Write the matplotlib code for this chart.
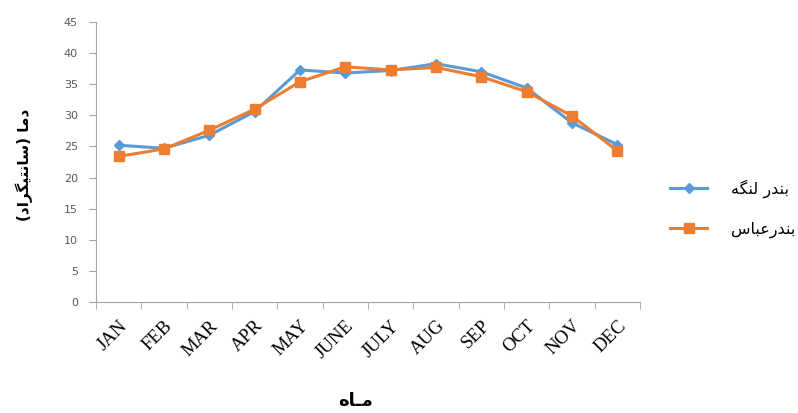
import matplotlib
matplotlib.use("Agg")
import matplotlib.pyplot as plt

months = ["JAN", "FEB", "MAR", "APR", "MAY", "JUNE", "JULY", "AUG", "SEP", "OCT", "NOV", "DEC"]
lengeh = [25.2, 24.7, 26.8, 30.6, 37.3, 36.8, 37.2, 38.3, 37.0, 34.4, 28.8, 25.3]
abbas = [23.4, 24.6, 27.6, 31.0, 35.4, 37.8, 37.3, 37.7, 36.2, 33.8, 29.9, 24.3]
label_lengeh = "بندر لنگه"
label_abbas = "بندرعباس"
ylabel = "دما (سانتیگراد)"
xlabel = "مـاه"

# matplotlib has no arabic shaping, so map letters to presentation forms by hand
forms = {
    "ا": ("\uFE8D", "\uFE8E", None, None),
    "ب": ("\uFE8F", "\uFE90", "\uFE91", "\uFE92"),
    "ت": ("\uFE95", "\uFE96", "\uFE97", "\uFE98"),
    "د": ("\uFEA9", "\uFEAA", None, None),
    "ر": ("\uFEAD", "\uFEAE", None, None),
    "س": ("\uFEB1", "\uFEB2", "\uFEB3", "\uFEB4"),
    "ع": ("\uFEC9", "\uFECA", "\uFECB", "\uFECC"),
    "ل": ("\uFEDD", "\uFEDE", "\uFEDF", "\uFEE0"),
    "م": ("\uFEE1", "\uFEE2", "\uFEE3", "\uFEE4"),
    "ن": ("\uFEE5", "\uFEE6", "\uFEE7", "\uFEE8"),
    "ه": ("\uFEE9", "\uFEEA", "\uFEEB", "\uFEEC"),
    "ی": ("\uFBFC", "\uFBFD", "\uFBFE", "\uFBFF"),
    "گ": ("\uFB92", "\uFB93", "\uFB94", "\uFB95"),
    "ـ": ("ـ", "ـ", "ـ", "ـ"),
}


def joins_next(c):
    return c in forms and forms[c][2] is not None


def shape(text):
    out = []
    for i, c in enumerate(text):
        if c not in forms:
            out.append(c)
            continue
        prev = text[i - 1] if i > 0 else ""
        nxt = text[i + 1] if i + 1 < len(text) else ""
        from_prev = joins_next(prev)
        to_next = joins_next(c) and nxt in forms
        iso, fin, ini, med = forms[c]
        if from_prev and to_next:
            out.append(med)
        elif from_prev:
            out.append(fin)
        elif to_next:
            out.append(ini)
        else:
            out.append(iso)
    mirror = {"(": ")", ")": "("}
    return "".join(mirror.get(c, c) for c in reversed(out))


blue = "#5B9BD5"
orange = "#ED7D31"
grey = "#A6A6A6"

fig = plt.figure(figsize=(7.98, 4.13), dpi=100)
ax = fig.add_axes([0.1203, 0.2688, 0.6817, 0.6779])

x = list(range(len(months)))
ax.plot(x, lengeh, color=blue, lw=2.2, marker="D", ms=5.5, label=shape(label_lengeh))
ax.plot(x, abbas, color=orange, lw=2.2, marker="s", ms=7, label=shape(label_abbas))

ax.set_xlim(-0.5, len(months) - 0.5)
ax.set_ylim(0, 45)
ax.set_yticks(range(0, 46, 5))
ax.set_xticks(x)
ax.set_xticklabels(months, rotation=45, ha="right", rotation_mode="anchor",
                   family="Liberation Serif", fontsize=13.5)
ax.set_xticks([i - 0.5 for i in range(len(months) + 1)], minor=True)
ax.tick_params(axis="x", which="major", length=0, pad=11)
ax.tick_params(axis="x", which="minor", length=5, color=grey, direction="out")
ax.tick_params(axis="y", length=5, color=grey, labelcolor="#595959", labelsize=8, pad=8)

for s in ["top", "right"]:
    ax.spines[s].set_visible(False)
for s in ["left", "bottom"]:
    ax.spines[s].set_color(grey)

fig.text(0.031, 0.60, shape(ylabel), rotation=90, ha="center", va="center",
         family="DejaVu Sans", fontweight="bold", fontsize=11)
fig.text(0.445, 0.028, shape(xlabel), ha="center", va="center",
         family="DejaVu Sans", fontweight="bold", fontsize=13)

fig.legend(loc="center left", bbox_to_anchor=(0.822, 0.495), frameon=False,
           fontsize=11.5, handlelength=2.3, labelspacing=1.5, handletextpad=1.5)

fig.savefig("out.png", dpi=100)
